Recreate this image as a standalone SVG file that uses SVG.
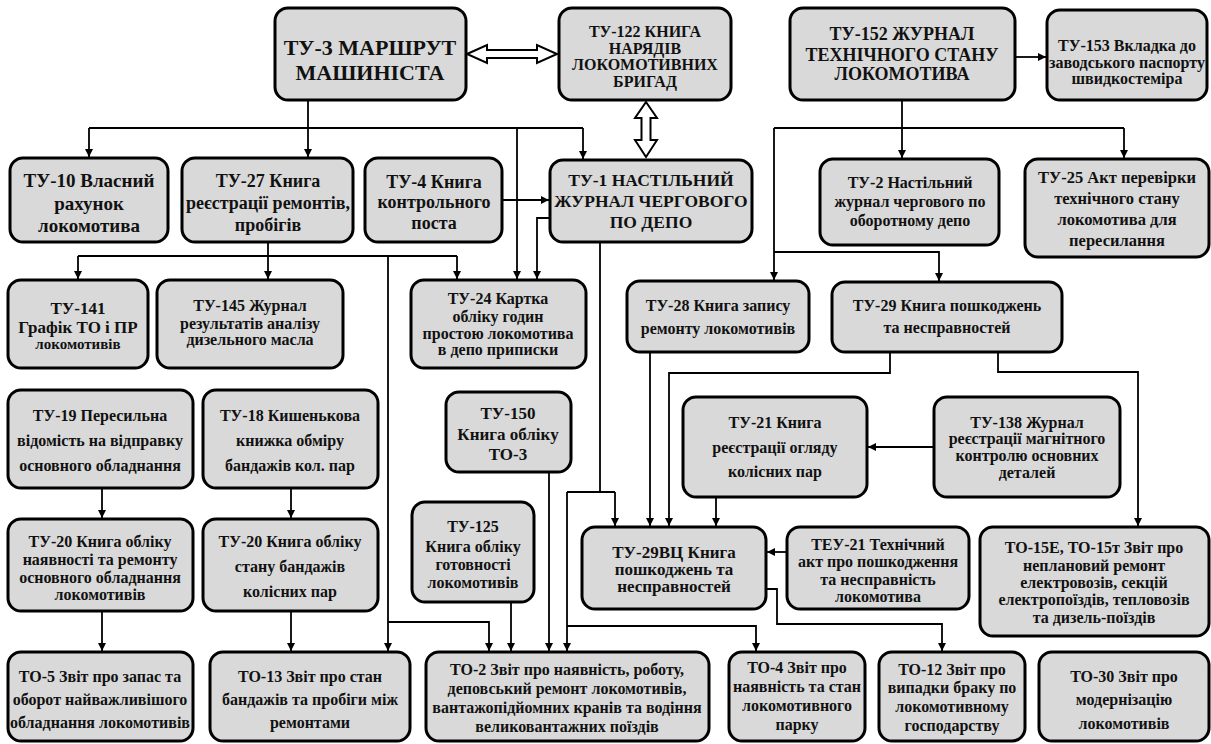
<svg xmlns="http://www.w3.org/2000/svg" width="1211" height="744" viewBox="0 0 1211 744">
<style>
.n rect{fill:#d9d9d9;stroke:#000;stroke-width:3}
.n text{font-weight:700;font-size:16px;text-anchor:middle;fill:#111}
.c path{fill:none;stroke:#000;stroke-width:1.8}
.c path.a{marker-end:url(#ah)}
.d{fill:#fff;stroke:#000;stroke-width:2}
</style>
<defs>
<marker id="ah" markerWidth="10" markerHeight="10" refX="8" refY="4" orient="auto" markerUnits="userSpaceOnUse">
<path d="M0,0 L8,4 L0,8 z" fill="#000"/>
</marker>
</defs>
<rect width="1211" height="744" fill="#fff"/>

<g class="c" id="connectors">
<path d="M308,100 V128 M89,128 H583"/>
<path class="a" d="M89,128 V157"/>
<path class="a" d="M308,128 V157"/>
<path class="a" d="M583,128 V159"/>
<path class="a" d="M517,128 V279"/>
<path class="a" d="M502,200 H549"/>
<path class="a" d="M550,218 H537 V279"/>
<path d="M268,242 V256 M78,256 H457"/>
<path class="a" d="M78,256 V279"/>
<path class="a" d="M268,256 V279"/>
<path class="a" d="M457,256 V279"/>
<path class="a" d="M388,256 V651"/>
<path class="a" d="M388,622 H489 V651"/>
<path d="M600,242 V492 M567,492 H615"/>
<path class="a" d="M615,492 V526"/>
<path class="a" d="M567,492 V651"/>
<path class="a" d="M567,626 H756 V651"/>
<path class="a" d="M549,472 V651"/>
<path class="a" d="M511,602 V651"/>
<path class="a" d="M902,100 V158"/>
<path d="M774,128 H1124"/>
<path class="a" d="M1124,128 V158"/>
<path class="a" d="M774,128 V280"/>
<path class="a" d="M774,252 H939 V281"/>
<path class="a" d="M1015,57 H1046"/>
<path class="a" d="M650,352 V526"/>
<path class="a" d="M890,352 V373 H669 V526"/>
<path class="a" d="M998,352 V372 H1138 V526"/>
<path class="a" d="M716,497 V526"/>
<path class="a" d="M934,447 H868"/>
<path class="a" d="M787,552 H767"/>
<path class="a" d="M766,589 H777 V624 H942 V651"/>
<path class="a" d="M102,488 V518"/>
<path class="a" d="M291,488 V518"/>
<path class="a" d="M102,611 V651"/>
<path class="a" d="M291,611 V651"/>
<polygon class="d" points="467,54 487,45 487,50 537,50 537,45 557,54 537,63 537,58 487,58 487,63"/>
<polygon class="d" points="646,102 657,118 650.5,118 650.5,140 657,140 646,157 635,140 641.5,140 641.5,118 635,118"/>
</g>

<g font-family="Liberation Serif, Tinos, Times New Roman, DejaVu Serif, serif">
<g class="n" id="tu3"><rect x="275" y="8" width="191" height="92" rx="13"/>
<text style="font-size:22px"><tspan x="370" y="55">ТУ-3 МАРШРУТ</tspan><tspan x="370" y="80">МАШИНІСТА</tspan></text></g>
<g class="n" id="tu122"><rect x="559" y="8" width="172" height="92" rx="13"/>
<text style="font-size:16px"><tspan x="645" y="37">ТУ-122 КНИГА</tspan><tspan x="645" y="53.5">НАРЯДІВ</tspan><tspan x="645" y="70">ЛОКОМОТИВНИХ</tspan><tspan x="645" y="86.5">БРИГАД</tspan></text></g>
<g class="n" id="tu152"><rect x="790" y="8" width="225" height="92" rx="13"/>
<text style="font-size:18px"><tspan x="902" y="40">ТУ-152 ЖУРНАЛ</tspan><tspan x="902" y="61">ТЕХНІЧНОГО СТАНУ</tspan><tspan x="902" y="80">ЛОКОМОТИВА</tspan></text></g>
<g class="n" id="tu153"><rect x="1047" y="10" width="160" height="90" rx="13"/>
<text><tspan x="1127" y="51">ТУ-153 Вкладка до</tspan><tspan x="1127" y="68">заводського паспорту</tspan><tspan x="1127" y="84">швидкостеміра</tspan></text></g>

<g class="n" id="tu10"><rect x="10" y="158" width="158" height="84" rx="13"/>
<text style="font-size:19px"><tspan x="89" y="187">ТУ-10 Власний</tspan><tspan x="89" y="210">рахунок</tspan><tspan x="89" y="232">локомотива</tspan></text></g>
<g class="n" id="tu27"><rect x="182" y="158" width="171" height="84" rx="13"/>
<text style="font-size:18px"><tspan x="268" y="187">ТУ-27 Книга</tspan><tspan x="268" y="209">реєстрації ремонтів,</tspan><tspan x="268" y="231">пробігів</tspan></text></g>
<g class="n" id="tu4"><rect x="365" y="158" width="137" height="84" rx="13"/>
<text style="font-size:18px"><tspan x="434" y="188">ТУ-4 Книга</tspan><tspan x="434" y="208">контрольного</tspan><tspan x="434" y="229">поста</tspan></text></g>
<g class="n" id="tu1"><rect x="550" y="160" width="202" height="82" rx="13"/>
<text style="font-size:17.5px"><tspan x="651" y="186">ТУ-1 НАСТІЛЬНИЙ</tspan><tspan x="651" y="207">ЖУРНАЛ ЧЕРГОВОГО</tspan><tspan x="651" y="228">ПО ДЕПО</tspan></text></g>
<g class="n" id="tu2"><rect x="820" y="159" width="179" height="86" rx="13"/>
<text><tspan x="910" y="188">ТУ-2 Настільний</tspan><tspan x="910" y="207">журнал чергового по</tspan><tspan x="910" y="226">оборотному депо</tspan></text></g>
<g class="n" id="tu25"><rect x="1025" y="159" width="184" height="98" rx="13"/>
<text style="font-size:16.5px"><tspan x="1117" y="183">ТУ-25 Акт перевірки</tspan><tspan x="1117" y="204">технічного стану</tspan><tspan x="1117" y="225">локомотива для</tspan><tspan x="1117" y="246">пересилання</tspan></text></g>

<g class="n" id="tu141"><rect x="8" y="280" width="140" height="88" rx="13"/>
<text style="font-size:17px"><tspan x="78" y="314">ТУ-141</tspan><tspan x="78" y="333">Графік ТО і ПР</tspan><tspan x="78" y="349" style="font-size:15px">локомотивів</tspan></text></g>
<g class="n" id="tu145"><rect x="157" y="280" width="186" height="88" rx="13"/>
<text><tspan x="250" y="311">ТУ-145 Журнал</tspan><tspan x="250" y="329">результатів аналізу</tspan><tspan x="250" y="345">дизельного масла</tspan></text></g>
<g class="n" id="tu24"><rect x="411" y="280" width="175" height="88" rx="13"/>
<text><tspan x="498" y="304">ТУ-24 Картка</tspan><tspan x="498" y="322">обліку годин</tspan><tspan x="498" y="339">простою локомотива</tspan><tspan x="498" y="355">в депо приписки</tspan></text></g>
<g class="n" id="tu28"><rect x="627" y="281" width="182" height="71" rx="13"/>
<text><tspan x="718" y="311">ТУ-28 Книга запису</tspan><tspan x="718" y="334">ремонту локомотивів</tspan></text></g>
<g class="n" id="tu29"><rect x="832" y="282" width="230" height="70" rx="13"/>
<text><tspan x="947" y="311">ТУ-29 Книга пошкоджень</tspan><tspan x="947" y="333">та несправностей</tspan></text></g>

<g class="n" id="tu19"><rect x="8" y="390" width="185" height="98" rx="13"/>
<text><tspan x="100" y="421">ТУ-19 Пересильна</tspan><tspan x="100" y="446">відомість на відправку</tspan><tspan x="100" y="471">основного обладнання</tspan></text></g>
<g class="n" id="tu18"><rect x="203" y="390" width="175" height="98" rx="13"/>
<text><tspan x="290" y="421">ТУ-18 Кишенькова</tspan><tspan x="290" y="446">книжка обміру</tspan><tspan x="290" y="471">бандажів кол. пар</tspan></text></g>
<g class="n" id="tu150"><rect x="446" y="392" width="125" height="80" rx="13"/>
<text style="font-size:17px"><tspan x="508" y="419">ТУ-150</tspan><tspan x="508" y="440">Книга обліку</tspan><tspan x="508" y="460">ТО-3</tspan></text></g>
<g class="n" id="tu21"><rect x="683" y="397" width="184" height="100" rx="13"/>
<text><tspan x="775" y="428">ТУ-21 Книга</tspan><tspan x="775" y="453">реєстрації огляду</tspan><tspan x="775" y="477">колісних пар</tspan></text></g>
<g class="n" id="tu138"><rect x="934" y="397" width="186" height="100" rx="13"/>
<text><tspan x="1027" y="428">ТУ-138 Журнал</tspan><tspan x="1027" y="444">реєстрації магнітного</tspan><tspan x="1027" y="461">контролю основних</tspan><tspan x="1027" y="478">деталей</tspan></text></g>

<g class="n" id="tu20a"><rect x="8" y="519" width="185" height="92" rx="13"/>
<text><tspan x="100" y="547">ТУ-20 Книга обліку</tspan><tspan x="100" y="565">наявності та ремонту</tspan><tspan x="100" y="583">основного обладнання</tspan><tspan x="100" y="600">локомотивів</tspan></text></g>
<g class="n" id="tu20b"><rect x="203" y="519" width="175" height="92" rx="13"/>
<text><tspan x="290" y="547">ТУ-20 Книга обліку</tspan><tspan x="290" y="572">стану бандажів</tspan><tspan x="290" y="597">колісних пар</tspan></text></g>
<g class="n" id="tu125"><rect x="412" y="502" width="122" height="100" rx="13"/>
<text><tspan x="473" y="532">ТУ-125</tspan><tspan x="473" y="552">Книга обліку</tspan><tspan x="473" y="570">готовності</tspan><tspan x="473" y="588">локомотивів</tspan></text></g>
<g class="n" id="tu29vc"><rect x="582" y="527" width="184" height="82" rx="13"/>
<text style="font-size:17px"><tspan x="674" y="558">ТУ-29ВЦ Книга</tspan><tspan x="674" y="575">пошкоджень та</tspan><tspan x="674" y="592">несправностей</tspan></text></g>
<g class="n" id="teu21"><rect x="787" y="527" width="182" height="82" rx="13"/>
<text><tspan x="878" y="550">ТЕУ-21 Технічний</tspan><tspan x="878" y="567">акт про пошкодження</tspan><tspan x="878" y="585">та несправність</tspan><tspan x="878" y="602">локомотива</tspan></text></g>
<g class="n" id="to15"><rect x="980" y="527" width="229" height="109" rx="13"/>
<text><tspan x="1094" y="553">ТО-15Е, ТО-15т Звіт про</tspan><tspan x="1094" y="571">неплановий ремонт</tspan><tspan x="1094" y="588">електровозів, секцій</tspan><tspan x="1094" y="605">електропоїздів, тепловозів</tspan><tspan x="1094" y="623">та дизель-поїздів</tspan></text></g>

<g class="n" id="to5"><rect x="8" y="652" width="185" height="89" rx="13"/>
<text><tspan x="100" y="682">ТО-5 Звіт про запас та</tspan><tspan x="100" y="705">оборот найважливішого</tspan><tspan x="100" y="728">обладнання локомотивів</tspan></text></g>
<g class="n" id="to13"><rect x="210" y="652" width="200" height="89" rx="13"/>
<text><tspan x="310" y="682">ТО-13 Звіт про стан</tspan><tspan x="310" y="705">бандажів та пробіги між</tspan><tspan x="310" y="728">ремонтами</tspan></text></g>
<g class="n" id="to2"><rect x="426" y="652" width="283" height="89" rx="13"/>
<text><tspan x="567" y="675">ТО-2 Звіт про наявність, роботу,</tspan><tspan x="567" y="694">деповський ремонт локомотивів,</tspan><tspan x="567" y="713">вантажопідйомних кранів та водіння</tspan><tspan x="567" y="732">великовантажних поїздів</tspan></text></g>
<g class="n" id="to4"><rect x="729" y="652" width="136" height="89" rx="13"/>
<text><tspan x="797" y="673">ТО-4 Звіт про</tspan><tspan x="797" y="692">наявність та стан</tspan><tspan x="797" y="711">локомотивного</tspan><tspan x="797" y="730">парку</tspan></text></g>
<g class="n" id="to12"><rect x="879" y="652" width="146" height="89" rx="13"/>
<text><tspan x="952" y="675">ТО-12 Звіт про</tspan><tspan x="952" y="693">випадки браку по</tspan><tspan x="952" y="712">локомотивному</tspan><tspan x="952" y="731">господарству</tspan></text></g>
<g class="n" id="to30"><rect x="1039" y="652" width="170" height="89" rx="13"/>
<text><tspan x="1124" y="682">ТО-30 Звіт про</tspan><tspan x="1124" y="705">модернізацію</tspan><tspan x="1124" y="729">локомотивів</tspan></text></g>
</g>
</svg>
